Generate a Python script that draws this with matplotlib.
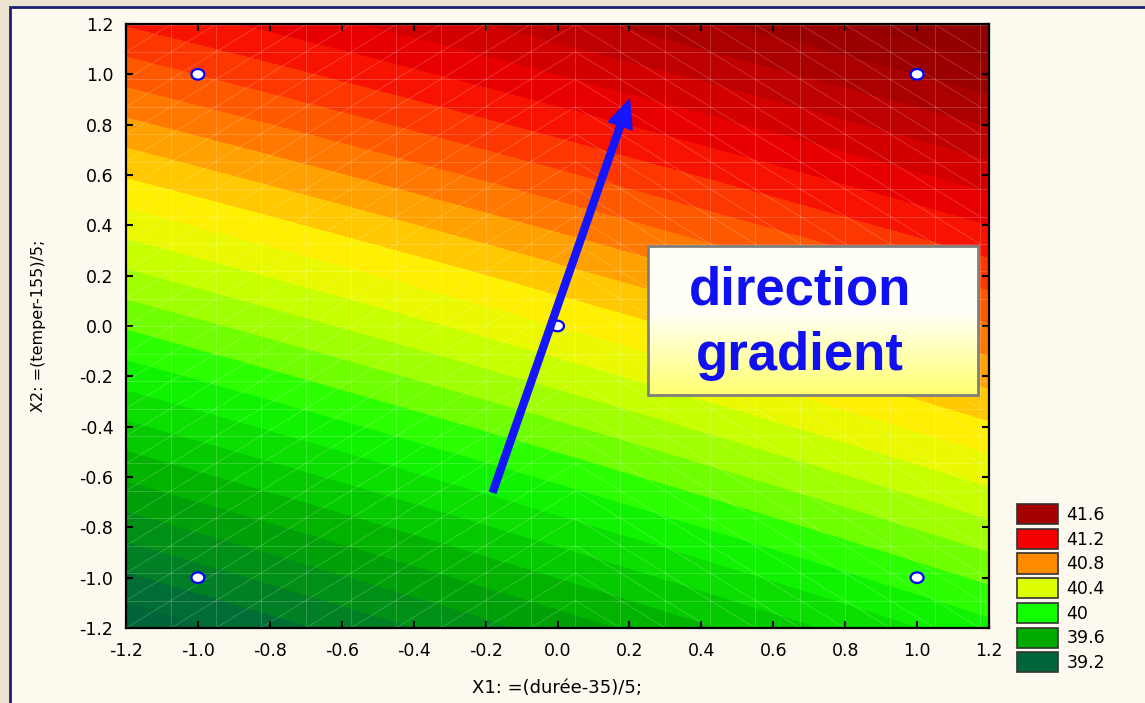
import numpy as np
import matplotlib
matplotlib.use('Agg')
import matplotlib.pyplot as plt
from matplotlib.colors import LinearSegmentedColormap, Normalize
from matplotlib.patches import Rectangle, Ellipse, FancyArrowPatch, Patch
from matplotlib.collections import LineCollection

plt.rcParams['font.family'] = ['DejaVu Sans']

# design points (coded factors) and measured response
x1_pts = [-1, 1, -1, 1, 0]
x2_pts = [-1, -1, 1, 1, 0]
resp = [39.35, 40.05, 41.0, 41.6, 40.5]

# legend levels and colours
leg_levels = [41.6, 41.2, 40.8, 40.4, 40, 39.6, 39.2]
leg_colors = ['#a50000', '#f40000', '#ff8c00', '#ddff00', '#11ff00', '#00aa00', '#00663a']

ticks = [-1.2, -1.0, -0.8, -0.6, -0.4, -0.2, 0.0, 0.2, 0.4, 0.6, 0.8, 1.0, 1.2]

# gradient arrow (start, end)
arrow_start = (-0.18, -0.66)
arrow_end = (0.2, 0.9)

# fit z = b0 + b1 x1 + b2 x2 + b12 x1 x2
X = np.column_stack([np.ones(5), x1_pts, x2_pts, np.multiply(x1_pts, x2_pts)])
coef, *_ = np.linalg.lstsq(X, np.array(resp), rcond=None)

gx, gy = np.meshgrid(np.linspace(-1.2, 1.2, 241), np.linspace(-1.2, 1.2, 241))
gz = coef[0] + coef[1] * gx + coef[2] * gy + coef[3] * gx * gy

# colour map (hsv-like blend between legend colours)
stops = [(38.9, '#005a34'), (39.2, '#00663a'), (39.6, '#00aa00'), (40.0, '#11ff00'),
         (40.2, '#8cff00'), (40.4, '#ddff00'), (40.55, '#fff000'), (40.8, '#ff8c00'),
         (41.0, '#ff4a00'), (41.2, '#f40000'), (41.6, '#a00000'), (42.0, '#800000')]
vmin, vmax = stops[0][0], stops[-1][0]
cmap = LinearSegmentedColormap.from_list(
    'stat', [((v - vmin) / (vmax - vmin), c) for v, c in stops])

fig = plt.figure(figsize=(11.45, 7.03), dpi=100)
fig.patch.set_facecolor('#ece2cf')
fig.patches.append(Rectangle((10 / 1145, -0.02), 1.1, 1 - 7 / 703 + 0.02,
                             transform=fig.transFigure, facecolor='#fef9ef',
                             edgecolor='#1c1f78', linewidth=2, zorder=-10))

ax = fig.add_axes([126 / 1145, 1 - 628 / 703, 863 / 1145, 604 / 703])
levels = np.arange(38.9, 42.0, 0.1)
ax.contourf(gx, gy, gz, levels=levels, cmap=cmap, norm=Normalize(vmin, vmax),
            antialiased=False, zorder=1)

# faint mesh lines
xs = np.arange(-1.2, 1.2001, 0.125)
ys = np.arange(-1.2, 1.2001, 0.109)
segs = []
for x in xs:
    segs.append([(x, -1.2), (x, 1.2)])
for y in ys:
    segs.append([(-1.2, y), (1.2, y)])
for i in range(len(xs) - 1):
    for j in range(len(ys) - 1):
        if xs[i] < 0:
            segs.append([(xs[i], ys[j]), (xs[i + 1], ys[j + 1])])
        else:
            segs.append([(xs[i], ys[j + 1]), (xs[i + 1], ys[j])])
ax.add_collection(LineCollection(segs, colors='white', linewidths=0.6, alpha=0.22, zorder=2))

# design points
for px, py in zip(x1_pts, x2_pts):
    ax.add_patch(Ellipse((px, py), 0.036, 0.042, facecolor='white',
                         edgecolor='#0000ff', linewidth=1.6, zorder=5))

# gradient arrow
ax.add_patch(FancyArrowPatch(arrow_start, arrow_end, mutation_scale=1,
                             arrowstyle='simple,head_length=20,head_width=18,tail_width=5',
                             color='#1414ff', shrinkA=0, shrinkB=0, zorder=6))

# text box with white-to-yellow gradient
bx0, bx1, by0, by1 = 0.253, 1.169, -0.274, 0.318
grad = np.concatenate([np.zeros(45), np.linspace(0, 1, 55)]).reshape(-1, 1)
gcmap = LinearSegmentedColormap.from_list('wy', ['#fffff6', '#ffff70'])
ax.imshow(grad, extent=[bx0, bx1, by0, by1], origin='upper', cmap=gcmap,
          aspect='auto', zorder=7)
ax.add_patch(Rectangle((bx0, by0), bx1 - bx0, by1 - by0, fill=False,
                       edgecolor='#808080', linewidth=2, zorder=8))
for txt, ty in [('direction', 0.14), ('gradient', -0.118)]:
    ax.text(0.675, ty, txt, color='#1010f0', fontsize=38,
            family='Liberation Sans', fontweight='bold', ha='center',
            va='center', zorder=9)

ax.set_xlim(-1.2, 1.2)
ax.set_ylim(-1.2, 1.2)
ax.set_xticks(ticks)
ax.set_yticks(ticks)
ax.set_xticklabels([f'{t:.1f}' for t in ticks])
ax.set_yticklabels([f'{t:.1f}' for t in ticks])
ax.tick_params(direction='in', top=True, right=True, length=5, width=1.5,
               labelsize=12.5, colors='black')
ax.tick_params(axis='x', pad=10)
ax.tick_params(axis='y', pad=9)
for s in ax.spines.values():
    s.set_linewidth(1.6)
    s.set_zorder(10)

ax.set_xlabel('X1: =(durée-35)/5;', fontsize=13, labelpad=14)
ax.set_ylabel('X2: =(temper-155)/5;', fontsize=11.5, labelpad=24)

handles = [Patch(facecolor=c, edgecolor='#333333', linewidth=1.2) for c in leg_colors]
fig.legend(handles, [f'{v:g}' for v in leg_levels], loc='upper left',
           bbox_to_anchor=(1017 / 1145, 1 - 504 / 703), frameon=False,
           fontsize=12.5, handlelength=2.35, handleheight=1.4, labelspacing=0.27,
           handletextpad=0.5, borderpad=0, borderaxespad=0)

fig.savefig('out.png', dpi=100, facecolor=fig.get_facecolor())
